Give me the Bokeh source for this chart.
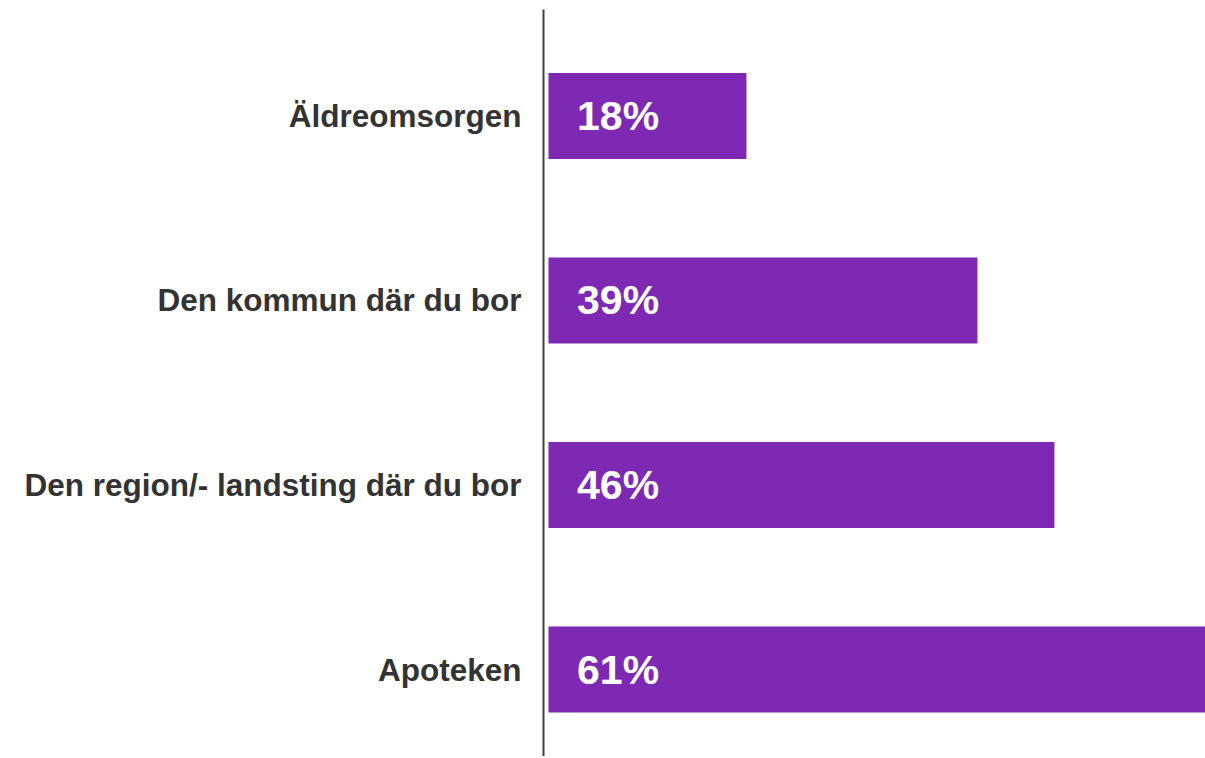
from bokeh.plotting import figure
from bokeh.models import ColumnDataSource, Range1d, FixedTicker
from bokeh.core.properties import value
from bokeh.embed import file_html
from bokeh.resources import INLINE

categories = ["Äldreomsorgen", "Den kommun där du bor", "Den region/- landsting där du bor", "Apoteken"]
values = [18, 39, 46, 61]
labels = ["18%", "39%", "46%", "61%"]

n = len(categories)
ypos = [n - 1 - i for i in range(n)]
src = ColumnDataSource(dict(y=ypos, v=values, lab=labels, x0=[0] * n, tx=[2.6] * n))

p = figure(width=1205, height=756, output_backend="svg", toolbar_location=None,
           x_range=Range1d(-0.45, 59.73), y_range=Range1d(-0.4715, 3.577),
           x_axis_location=None, min_border_left=543, min_border_right=0,
           min_border_top=9, min_border_bottom=0)
p.outline_line_color = None
p.xgrid.visible = False
p.ygrid.visible = False
p.background_fill_color = "white"
p.border_fill_color = "white"

p.hbar(y="y", left="x0", right="v", height=0.466, source=src,
       fill_color="#7E29B4", line_color=None)
p.text(x="tx", y="y", text="lab", source=src, text_color="white",
       text_font=value("Liberation Sans"), text_font_style="bold",
       text_font_size="41px", text_baseline="middle", text_align="left")

ax = p.yaxis[0]
ax.ticker = FixedTicker(ticks=ypos)
ax.major_label_overrides = {y: c for y, c in zip(ypos, categories)}
ax.major_label_text_font = "Liberation Sans"
ax.major_label_text_font_style = "bold"
ax.major_label_text_font_size = "31.5px"
ax.major_label_text_color = "#333333"
ax.major_label_standoff = 22
ax.major_tick_line_color = None
ax.minor_tick_line_color = None
ax.major_tick_out = 0
ax.axis_line_color = "#404040"
ax.axis_line_width = 2

open("out.html", "w").write(file_html(p, INLINE))
